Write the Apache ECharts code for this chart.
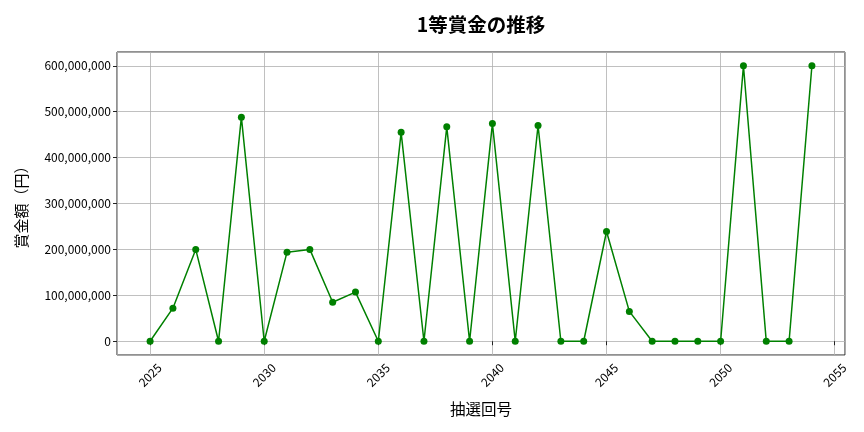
<!DOCTYPE html>
<html>
<head>
<meta charset="utf-8">
<script src="https://cdn.jsdelivr.net/npm/echarts@6/dist/echarts.min.js"></script>
<style>html,body{margin:0;padding:0;background:#fff}#c{width:864px;height:432px}</style>
</head>
<body>
<div id="c"></div>
<script>
const draws = [2025,2026,2027,2028,2029,2030,2031,2032,2033,2034,2035,2036,2037,2038,2039,2040,2041,2042,2043,2044,2045,2046,2047,2048,2049,2050,2051,2052,2053,2054];
const prizes = [0,72000000,200000000,0,488000000,0,194000000,200000000,85000000,107000000,0,455000000,0,467000000,0,474000000,0,470000000,0,0,239000000,65000000,0,0,0,0,600000000,0,0,600000000];
const titleText = '1等賞金の推移';
const xName = '抽選回号';
const yName = '賞金額（円）';

const FONT = '"Noto Sans CJK JP", "Noto Sans", sans-serif';
const chart = echarts.init(document.getElementById('c'), null, {renderer: 'canvas'});
const fmt = v => Math.round(v).toString().replace(/\B(?=(\d{3})+(?!\d))/g, ',');
chart.setOption({
  backgroundColor: '#fff',
  animation: false,
  title: {
    text: titleText, left: 476, top: 10, textAlign: 'center',
    textStyle: {fontFamily: FONT, fontSize: 19.5, fontWeight: 'bold', color: '#000'}
  },
  grid: {left: 117, right: 19, top: 52, bottom: 77, show: true, borderColor: '#222', borderWidth: 1},
  xAxis: {
    type: 'value', min: 2023.55, max: 2055.45,
    name: xName, nameLocation: 'middle', nameGap: 46,
    nameTextStyle: {fontFamily: FONT, fontSize: 15.5, color: '#000'},
    axisLine: {show: false},
    axisTick: {show: true, length: 4, lineStyle: {color: '#222'}},
    axisLabel: {rotate: 45, align: 'center', verticalAlign: 'middle', fontFamily: FONT, fontSize: 12, color: '#000', margin: 20, showMinLabel: false, showMaxLabel: false, formatter: v => String(v)},
    splitLine: {show: true, lineStyle: {color: '#b0b0b0', width: 0.8}}
  },
  yAxis: {
    type: 'value', min: -30000000, max: 630000000,
    name: yName, nameLocation: 'middle', nameGap: 88, nameRotate: 90,
    nameTextStyle: {fontFamily: FONT, fontSize: 15, color: '#000'},
    axisLine: {show: false},
    axisTick: {show: true, length: 4, lineStyle: {color: '#222'}},
    axisLabel: {fontFamily: FONT, fontSize: 12, color: '#000', margin: 6, showMinLabel: false, showMaxLabel: false, formatter: fmt},
    splitLine: {show: true, lineStyle: {color: '#b0b0b0', width: 0.8}}
  },
  series: [{
    type: 'line',
    data: draws.map((d, i) => [d, prizes[i]]),
    symbol: 'circle', symbolSize: 7,
    itemStyle: {color: '#008000'},
    lineStyle: {color: '#008000', width: 1.5}
  }]
});
</script>
</body>
</html>
